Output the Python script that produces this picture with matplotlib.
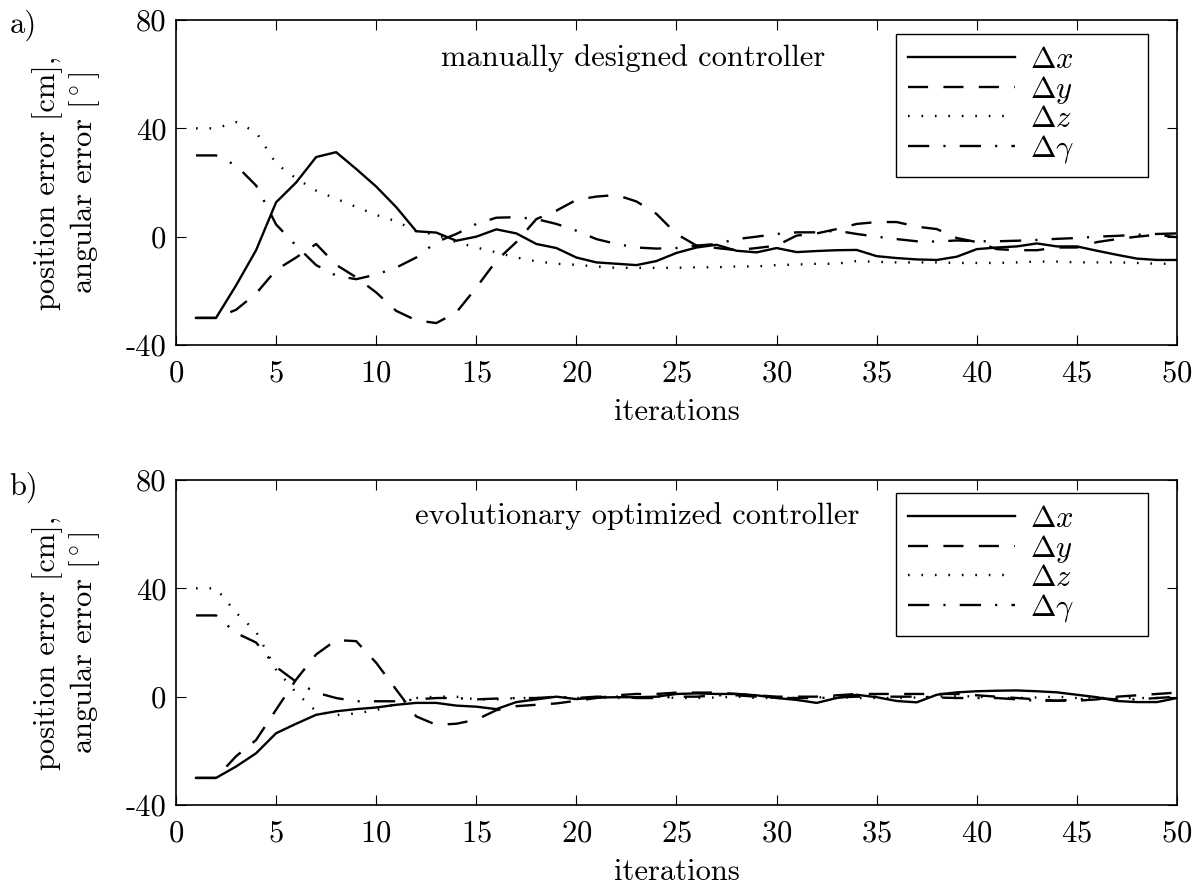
import numpy as np
import matplotlib
matplotlib.use("Agg")
import matplotlib.pyplot as plt

plt.rcParams['font.family'] = 'cmr10'
plt.rcParams['mathtext.fontset'] = 'cm'
plt.rcParams['axes.formatter.use_mathtext'] = True
plt.rcParams['axes.unicode_minus'] = False

iterations = np.arange(1, 51)

# a) manually designed controller
man_dx = [-30, -30, -18, -5, 12.7, 20, 29.4, 31.2, 25, 18.5,
          10.9, 2, 1.5, -1.5, 0, 2.7, 1.2, -2.7, -4.2, -7.7,
          -9.5, -10, -10.5, -9, -6, -4, -3, -5.2, -5.8, -4.2,
          -5.7, -5.3, -5, -4.9, -7.2, -7.9, -8.4, -8.6, -7.4, -4.6,
          -4, -3.6, -2.5, -3.6, -3.6, -5.2, -6.7, -8.1, -8.6, -8.6]
man_dy = [-30, -30, -27, -21, -12.3, -7.7, -2.7, -10.4, -15, -20.6,
          -27.4, -30.9, -31.9, -28, -18.8, -8.9, -2, 6.5, 9.6, 13.6,
          14.8, 15.4, 13, 8.4, 1, -3.3, -4.2, -5, -4.2, -3.3,
          0.4, 1.2, 2.8, 4.7, 5.4, 5.4, 3.7, 2.8, -0.5, -2,
          -4.6, -5, -5, -4, -4, -2, -0.9, 0, 0.7, -0.2]
man_dz = [40, 40, 42.3, 38.6, 27, 21.5, 17, 14, 11, 8,
          5.7, 2, 0.7, -2, -4, -5.8, -7.7, -9.1, -10, -10.4,
          -11, -11.5, -11.5, -11.5, -11.5, -11.3, -11.3, -11, -11, -10.5,
          -10.3, -10, -10, -9, -9.3, -9.5, -9.5, -9.5, -9.7, -9.7,
          -9.7, -9.5, -9.2, -9.2, -9.5, -9.5, -9.5, -9.7, -10, -10]
man_dg = [30, 30, 26.3, 18.9, 4.5, -3.3, -10.5, -14.4, -15.7, -14,
          -11.4, -7.7, -2, 1, 4.7, 7, 7.2, 6.5, 4.7, 2.2,
          -0.9, -2.7, -4, -4.4, -4.2, -3.3, -2.7, -0.9, 0, 1,
          1.6, 1.6, 2.2, 1, 0, -0.9, -1.7, -1.8, -1.4, -1.7,
          -1.7, -1.5, -1.2, -0.8, -0.5, 0, 0.3, 0.7, 1.0, 1.2]

# b) evolutionary optimized controller
evo_dx = [-30, -30, -25.8, -20.9, -13.5, -10, -6.7, -5.4, -4.6, -4,
          -3, -2.3, -2.3, -3.3, -3.7, -4.6, -2, -1, 0, -0.9,
          -0.3, -0.2, -0.2, 0, 1, 1.2, 1, 1, 0.5, -0.5,
          -1.2, -2.3, -0.5, 0.7, -0.2, -1.6, -2.1, 0.7, 1.6, 2,
          2.2, 2.3, 2, 1.6, 0.7, -0.2, -1.6, -2, -2, -0.5]
evo_dy = [-30, -30, -22, -16, -4.8, 6.3, 15.6, 20.9, 20.5, 12.5,
          2.6, -7.3, -10.4, -10, -8.5, -5, -3.5, -3, -2.5, -1.5,
          -0.5, 0.5, 1, 1, 1.5, 1.5, 1.5, 1, 0.5, 0,
          0, 0, 0.5, 1, 1, 1, 1, 1, 1, 0.5,
          0, -0.5, -1, -1.5, -1.5, -1, 0, 0.5, 1, 1.5]
evo_dz = [40, 40, 31, 24, 10, 1.5, -5.4, -6.8, -6.2, -5,
          -2.5, -0.5, 0, 0, -1, -1, -0.5, -0.5, 0, -0.5,
          -0.3, -0.5, -0.3, 0, -0.5, -0.5, -0.3, 0, -0.5, -0.5,
          -0.5, -0.3, 0, -0.5, -0.5, -0.5, -0.3, 0, 0.3, 0,
          -0.5, -0.5, -0.3, 0, -0.5, -0.5, -0.3, -0.5, -0.5, -0.5]
evo_dg = [30, 30, 23.5, 20, 11, 5.5, 1.5, -0.5, -1.7, -1.7,
          -1.7, -1, -0.5, -0.5, -1, -0.7, -0.5, -0.5, 0, -0.5,
          0, 0, -0.5, -0.5, 0, 0, 0.5, 0.5, 0, -0.5,
          -0.5, -0.5, -0.3, 0, 0, 0, 0, -0.3, -0.5, -0.5,
          -0.5, -1, -1.5, -1.5, -1, -0.5, -1, -1, -0.5, 0]

labels = [r'$\Delta x$', r'$\Delta y$', r'$\Delta z$', r'$\Delta\gamma$']
yticks = [-40, 0, 40, 80]
ytick_labels = ['-40', '0', '40', '80']
xticks = list(range(0, 51, 5))

panels = [
    ('a)', 'manually designed controller', [man_dx, man_dy, man_dz, man_dg]),
    ('b)', 'evolutionary optimized controller', [evo_dx, evo_dy, evo_dz, evo_dg]),
]

styles = [dict(linestyle='-'),
          dict(dashes=(8.5, 6.5)),
          dict(dashes=(0.7, 5)),
          dict(dashes=(9, 6, 0.9, 6))]

fs = 22
fig = plt.figure(figsize=(12, 8.85), dpi=100)
ax_bottoms = [1 - 345 / 885, 1 - 805 / 885]
leg_tops = [0.957, 0.96]
tag_y = [1 - 25 / 885, 1 - 487 / 885]
title_pos = [(22.85, 66), (23.05, 66.7)]

for i, (tag, title, series) in enumerate(panels):
    ax = fig.add_axes([176 / 1200, ax_bottoms[i], 1001 / 1200, 325 / 885])
    lines = []
    for vals, lab, st in zip(series, labels, styles):
        ln, = ax.plot(iterations, vals, color='black', linewidth=1.7, label=lab, **st)
        lines.append(ln)
    ax.set_xlim(0, 50)
    ax.set_ylim(-40, 80)
    ax.set_xticks(xticks)
    ax.set_yticks(yticks)
    ax.set_yticklabels(ytick_labels)
    ax.tick_params(direction='in', length=7, width=0.8, top=True, right=True,
                   labelsize=fs, pad=7)
    ax.tick_params(axis='x', pad=11)
    for sp in ax.spines.values():
        sp.set_linewidth(1.2)
    ax.set_xlabel('iterations', fontsize=fs, labelpad=8)
    ax.set_ylabel('position error [cm],\nangular error [$^\\circ$]', fontsize=fs,
                  linespacing=1.15)
    ax.yaxis.set_label_coords(-0.074, 0.5)
    ax.text(title_pos[i][0], title_pos[i][1], title, fontsize=fs,
            ha='center', va='center')
    fig.text(0.008, tag_y[i], tag, fontsize=fs, va='center')

    leg = ax.legend(handles=lines, loc='upper left',
                    bbox_to_anchor=(0.7193, 0, 0.2517, leg_tops[i]),
                    mode='expand', borderaxespad=0, fontsize=fs,
                    handlelength=3.5, handletextpad=0.5, labelspacing=0.0,
                    borderpad=0.4, fancybox=False, framealpha=1,
                    edgecolor='black')
    leg.get_frame().set_linewidth(1.0)

fig.savefig('out.png', dpi=100)
